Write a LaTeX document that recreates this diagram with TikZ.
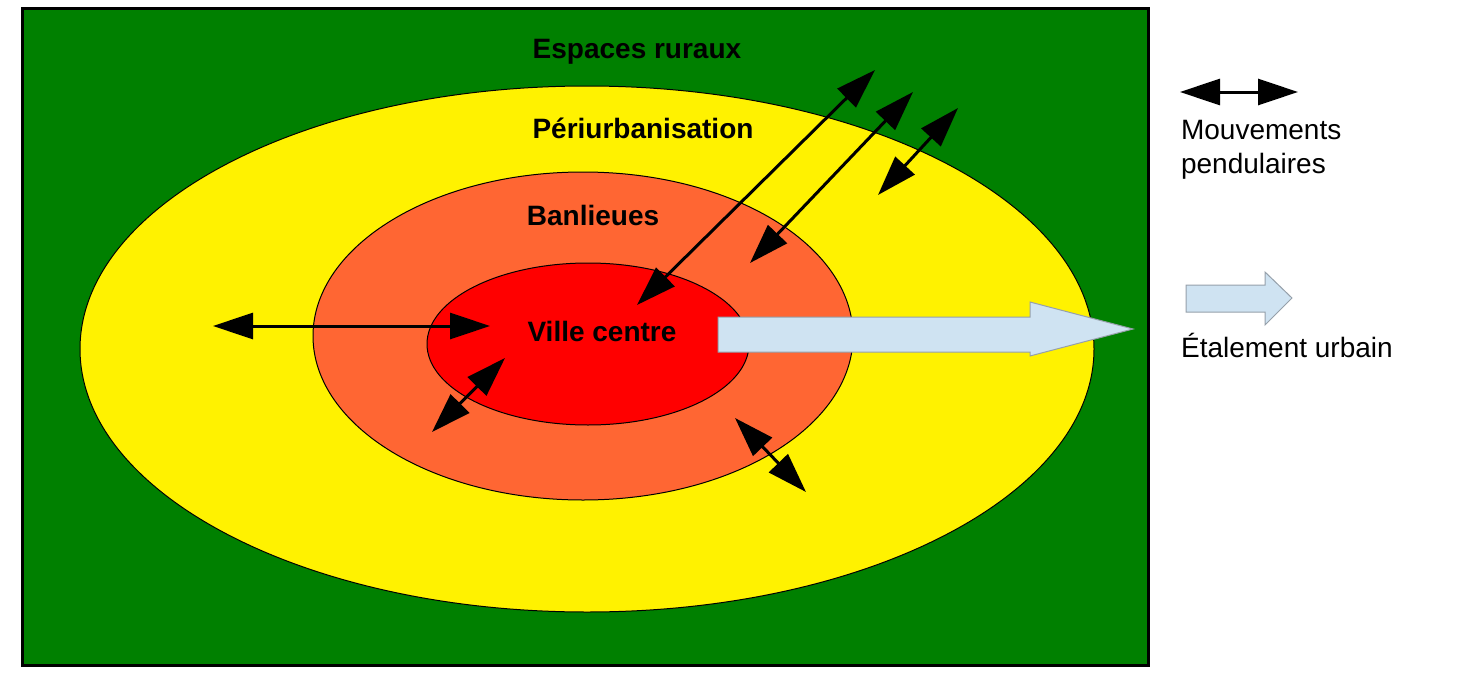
\documentclass[tikz,border=0pt]{standalone}
\usepackage{fontspec}
\setmainfont{Liberation Sans}
\usetikzlibrary{arrows.meta}
\begin{document}
\begin{tikzpicture}[x=0.5pt,y=-0.5pt,
 lbl/.style={font=\fontsize{14pt}{16pt}\selectfont\bfseries},
 leg/.style={font=\fontsize{14pt}{17pt}\selectfont,align=left,anchor=west},
 dbl/.style={line width=1.5pt,{Triangle[length=20pt,width=13pt]}-{Triangle[length=20pt,width=13pt]}},
 blk/.style={fill={rgb,255:red,207;green,227;blue,242},draw={rgb,255:red,150;green,160;blue,170},line width=0.5pt}]
\useasboundingbox (0,0) rectangle (1484,680);
\draw[fill={rgb,255:red,0;green,128;blue,0},line width=1.5pt] (22,8) rectangle (1148,665);
\draw[fill=yellow,line width=0.5pt] (587,349) ellipse [x radius=507,y radius=263];
\draw[fill={rgb,255:red,255;green,102;blue,51},line width=0.5pt] (583,336) ellipse [x radius=270,y radius=164];
\draw[fill=red,line width=0.5pt] (588,344) ellipse [x radius=161,y radius=81];
\node[lbl] (er) at (637,52) {Espaces ruraux};
\node[lbl] (pu) at (643,128) {Périurbanisation};
\node[lbl] (bl) at (593,215) {Banlieues};
\node[lbl] (vc) at (602,331) {Ville centre};
\draw[blk] (718,317) -- (1030,317) -- (1030,302) -- (1133,329) -- (1030,356) -- (1030,352) -- (718,352) -- cycle;
\coordinate (a1) at (213,326); \coordinate (b1) at (490,326);
\coordinate (a2) at (637,305); \coordinate (b2) at (875,70);
\coordinate (a3) at (750,263); \coordinate (b3) at (913,92);
\coordinate (a4) at (878,195); \coordinate (b4) at (958,108);
\coordinate (a5) at (432,432); \coordinate (b5) at (505,358);
\coordinate (a6) at (735,418); \coordinate (b6) at (806,492);
\foreach \i in {1,...,6} \draw[dbl] (a\i) -- (b\i);
\coordinate (l1) at (1180,92); \coordinate (l2) at (1298,92);
\draw[dbl] (l1) -- (l2);
\node[leg] (mp) at (1174,150) {Mouvements\\pendulaires};
\draw[blk] (1186,285) -- (1265,285) -- (1265,272) -- (1292,298) -- (1265,325) -- (1265,312) -- (1186,312) -- cycle;
\node[leg] (eu) at (1174,345) {Étalement urbain};
\end{tikzpicture}
\end{document}
